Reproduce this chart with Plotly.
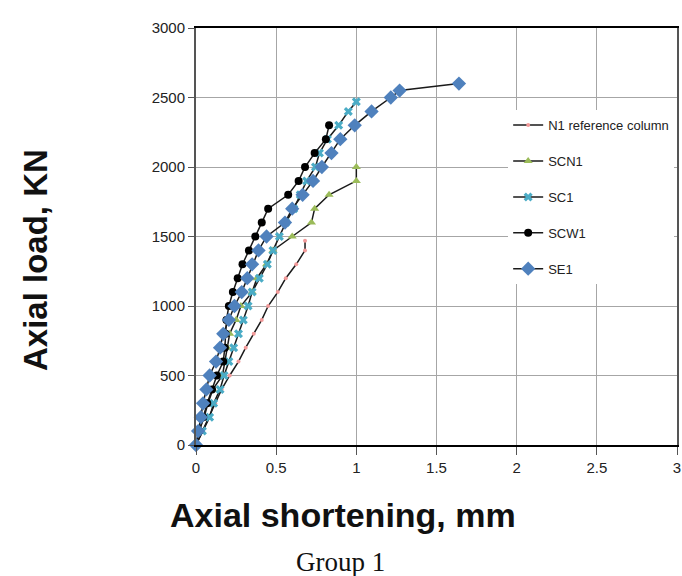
import plotly.graph_objects as go

# ---- data ----
N1_x = [0, 0.04, 0.08, 0.12, 0.16, 0.21, 0.265, 0.31, 0.36, 0.41, 0.45, 0.51, 0.56, 0.625, 0.68, 0.68]
N1_y = [0, 100, 200, 300, 400, 500, 600, 700, 800, 900, 1000, 1100, 1200, 1300, 1400, 1470]

SCN1_x = [0, 0.02, 0.05, 0.075, 0.105, 0.165, 0.18, 0.195, 0.21, 0.25, 0.28, 0.35, 0.38, 0.44, 0.48, 0.6, 0.72, 0.74, 0.83, 1.0, 1.0]
SCN1_y = [0, 100, 200, 300, 400, 500, 600, 700, 800, 900, 1000, 1100, 1200, 1300, 1400, 1500, 1600, 1700, 1800, 1900, 2000]

SC1_x = [0, 0.04, 0.085, 0.11, 0.15, 0.175, 0.205, 0.235, 0.265, 0.295, 0.325, 0.35, 0.395, 0.445, 0.48, 0.52, 0.56, 0.61, 0.65, 0.69, 0.745, 0.77, 0.82, 0.89, 0.95, 1.0]
SC1_y = [0, 100, 200, 300, 400, 500, 600, 700, 800, 900, 1000, 1100, 1200, 1300, 1400, 1500, 1600, 1700, 1800, 1900, 2000, 2100, 2200, 2300, 2400, 2470]

SCW1_x = [0, 0.02, 0.045, 0.07, 0.1, 0.13, 0.17, 0.18, 0.185, 0.19, 0.205, 0.23, 0.26, 0.29, 0.33, 0.37, 0.41, 0.45, 0.575, 0.64, 0.68, 0.74, 0.81, 0.83]
SCW1_y = [0, 100, 200, 300, 400, 500, 600, 700, 800, 900, 1000, 1100, 1200, 1300, 1400, 1500, 1600, 1700, 1800, 1900, 2000, 2100, 2200, 2300]

SE1_x = [0, 0.013, 0.03, 0.044, 0.065, 0.085, 0.125, 0.15, 0.17, 0.205, 0.24, 0.285, 0.32, 0.35, 0.39, 0.44, 0.555, 0.6, 0.665, 0.73, 0.785, 0.845, 0.9, 0.99, 1.095, 1.215, 1.27, 1.64]
SE1_y = [0, 100, 200, 300, 400, 500, 600, 700, 800, 900, 1000, 1100, 1200, 1300, 1400, 1500, 1600, 1700, 1800, 1900, 2000, 2100, 2200, 2300, 2400, 2500, 2550, 2600]

x_ticks = [0, 0.5, 1, 1.5, 2, 2.5, 3]
x_tick_labels = ["0", "0.5", "1", "1.5", "2", "2.5", "3"]
y_ticks = [0, 500, 1000, 1500, 2000, 2500, 3000]
y_tick_labels = ["0", "500", "1000", "1500", "2000", "2500", "3000"]

series = [
    ("N1 reference column", N1_x, N1_y, "circle", 4, "#f29a9a"),
    ("SCN1", SCN1_x, SCN1_y, "triangle-up", 8, "#9bbb59"),
    ("SC1", SC1_x, SC1_y, "x", 8, "#4bacc6"),
    ("SCW1", SCW1_x, SCW1_y, "circle", 8, "#000000"),
    ("SE1", SE1_x, SE1_y, "diamond", 11, "#4f81bd"),
]

SANS = "Liberation Sans, Arial, sans-serif"

fig = go.Figure()
for name, xs, ys, sym, sz, col in series:
    fig.add_trace(go.Scatter(
        x=xs, y=ys, mode="lines+markers", name=name, legendgroup=name,
        line=dict(color="#1a1a1a", width=1.5),
        marker=dict(symbol=sym, size=sz, color=col, line=dict(width=0)),
        cliponaxis=False,
    ))

fig.update_layout(
    width=682, height=576,
    margin=dict(l=196, r=5, t=28, b=131, autoexpand=False),
    paper_bgcolor="white", plot_bgcolor="white",
    showlegend=True,
    legend=dict(
        x=0.649, y=0.803, xanchor="left", yanchor="top",
        bgcolor="white", borderwidth=0,
        font=dict(family=SANS, size=13, color="#222"),
        tracegroupgap=16, itemwidth=30,
    ),
    font=dict(family=SANS, color="#222"),
)

fig.update_xaxes(
    range=[0, 3], tickvals=x_ticks, ticktext=x_tick_labels, automargin=False,
    showgrid=True, gridcolor="#a6a6a6", gridwidth=1,
    showline=True, linecolor="#000000", linewidth=1.5, mirror=True,
    ticks="outside", ticklen=8, tickcolor="#555", tickwidth=1,
    tickfont=dict(family=SANS, size=15, color="#222"),
    zeroline=False,
)
fig.update_yaxes(
    range=[0, 3000], tickvals=y_ticks, ticktext=y_tick_labels, automargin=False,
    showgrid=True, gridcolor="#a6a6a6", gridwidth=1,
    showline=True, linecolor="#555555", linewidth=2, mirror=True,
    ticks="outside", ticklen=6, tickcolor="#555", tickwidth=1,
    tickfont=dict(family=SANS, size=15, color="#222"),
    zeroline=False,
)

fig.add_annotation(
    text="<b>Axial load, KN</b>", xref="paper", yref="paper",
    x=-0.3347, y=0.4436, xanchor="center", yanchor="middle",
    textangle=-90, showarrow=False,
    font=dict(family=SANS, size=33, color="#111"),
)
fig.add_annotation(
    text="<b>Axial shortening, mm</b>", xref="paper", yref="paper",
    x=0.3046, y=-0.168, xanchor="center", yanchor="middle",
    showarrow=False,
    font=dict(family=SANS, size=34, color="#111"),
)
fig.add_annotation(
    text="Group 1", xref="paper", yref="paper",
    x=0.2994, y=-0.28, xanchor="center", yanchor="middle",
    showarrow=False,
    font=dict(family="Liberation Serif, Times New Roman, serif", size=27, color="#111"),
)

# remove the default 8px page margin so the figure fills the window exactly
fig.write_html(
    "out.html",
    config={"displayModeBar": False},
    post_script="document.body.style.margin='0px';document.body.style.overflow='hidden';",
)
